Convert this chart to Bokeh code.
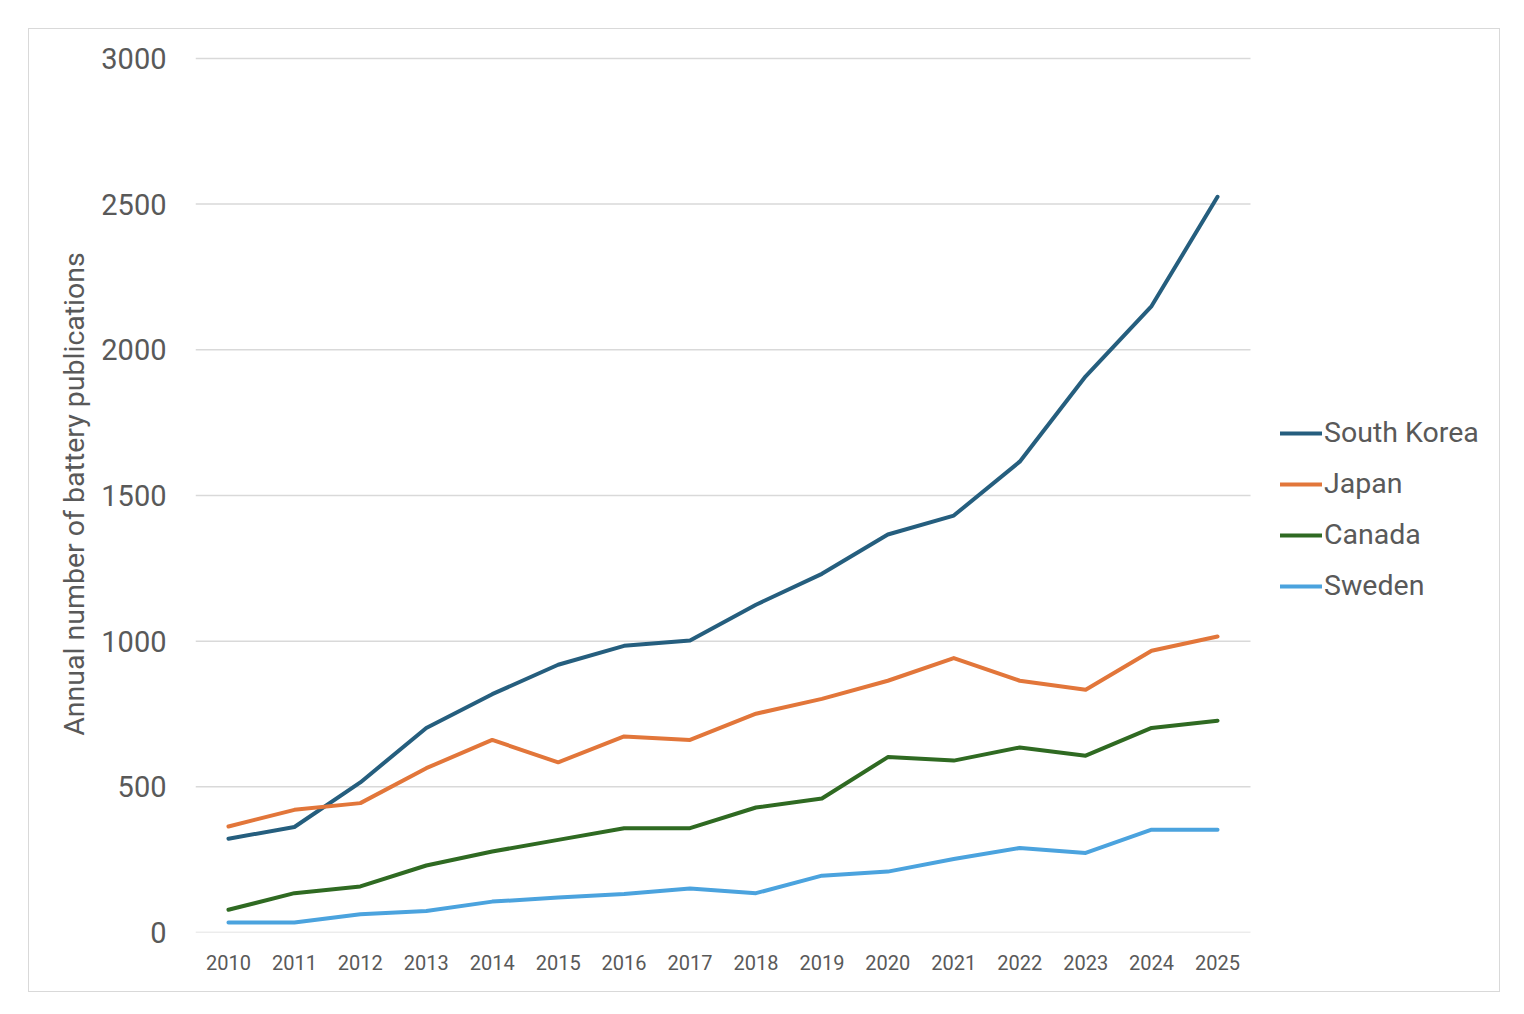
from bokeh.plotting import figure
from bokeh.models import ColumnDataSource, Legend, LegendItem, FixedTicker
from bokeh.embed import file_html
from bokeh.resources import INLINE

years = [2010, 2011, 2012, 2013, 2014, 2015, 2016, 2017,
         2018, 2019, 2020, 2021, 2022, 2023, 2024, 2025]
south_korea = [322, 362, 515, 702, 818, 919, 984, 1002,
               1125, 1231, 1366, 1431, 1616, 1909, 2150, 2525]
japan = [364, 421, 444, 564, 661, 584, 673, 661,
         751, 802, 864, 942, 864, 833, 967, 1016]
canada = [78, 135, 158, 230, 278, 318, 358, 358,
          429, 460, 602, 590, 635, 607, 702, 727]
sweden = [34, 34, 63, 74, 106, 120, 132, 151,
          135, 195, 209, 252, 290, 273, 353, 353]
series_names = ["South Korea", "Japan", "Canada", "Sweden"]
series_colors = ["#255E7E", "#E2763A", "#2F6A22", "#4BA3DE"]
y_ticks = [0, 500, 1000, 1500, 2000, 2500, 3000]
y_label = "Annual number of battery publications"

FONT = "Roboto"
TEXT = "#595959"

# layout constants (pixels)
INNER_W, INNER_H = 1472, 964
LEFT, TOP, BOTTOM = 166, 26, 61
PLOT_W = 1055                      # width of the gridded plot area
x_start, x_end_cat = years[0] - 0.5, years[-1] + 0.5
px_per_unit = PLOT_W / (x_end_cat - x_start)
x_end = x_start + (INNER_W - LEFT) / px_per_unit
y_top = 3010

src = ColumnDataSource(dict(year=years, sk=south_korea, jp=japan, ca=canada, se=sweden))
grid_src = ColumnDataSource(dict(x0=[x_start] * len(y_ticks), x1=[x_end_cat] * len(y_ticks),
                                 y=y_ticks))

p = figure(width=INNER_W, height=INNER_H, output_backend="svg", toolbar_location=None,
           x_range=(x_start, x_end), y_range=(0, y_top),
           min_border_left=LEFT, min_border_right=0, min_border_top=TOP,
           min_border_bottom=BOTTOM)
p.margin = (28, 0, 0, 28)
p.styles = {"border": "1px solid #d9d9d9"}
p.outline_line_color = None
p.background_fill_color = "white"
p.border_fill_color = "white"

# horizontal gridlines limited to the plot area
p.segment(x0="x0", x1="x1", y0="y", y1="y", source=grid_src,
          line_color="#d9d9d9", line_width=1.5, level="underlay")

renderers = []
for key, name, col in zip(["sk", "jp", "ca", "se"], series_names, series_colors):
    r = p.line("year", key, source=src, line_color=col, line_width=4,
               line_join="round", line_cap="round")
    renderers.append((name, r))

# axes
p.xaxis.ticker = FixedTicker(ticks=years)
p.yaxis.ticker = FixedTicker(ticks=y_ticks)
for ax in (p.xaxis[0], p.yaxis[0]):
    ax.axis_line_color = None
    ax.major_tick_line_color = None
    ax.minor_tick_line_color = None
    ax.major_label_text_color = TEXT
    ax.major_label_text_font = FONT
p.xaxis.major_label_text_font_size = "20px"
p.xaxis.major_label_standoff = 16
p.yaxis.major_label_text_font_size = "29px"
p.yaxis.major_label_standoff = 23
p.yaxis.axis_label = y_label
p.yaxis.axis_label_text_font = FONT
p.yaxis.axis_label_text_font_size = "28.5px"
p.yaxis.axis_label_text_font_style = "normal"
p.yaxis.axis_label_text_color = TEXT
p.yaxis.axis_label_standoff = 7

p.xgrid.grid_line_color = None
p.ygrid.grid_line_color = None

legend = Legend(items=[LegendItem(label=n, renderers=[r]) for n, r in renderers],
                location=(1085, 330), orientation="vertical")
legend.margin = 0
legend.padding = 10
legend.glyph_width = 42
legend.glyph_height = 30
legend.label_height = 30
legend.spacing = 18
legend.label_standoff = 2
legend.label_text_font = FONT
legend.label_text_font_size = "28.5px"
legend.label_text_color = TEXT
legend.border_line_color = None
legend.background_fill_alpha = 0
p.add_layout(legend)

open("out.html", "w").write(file_html(p, INLINE))
